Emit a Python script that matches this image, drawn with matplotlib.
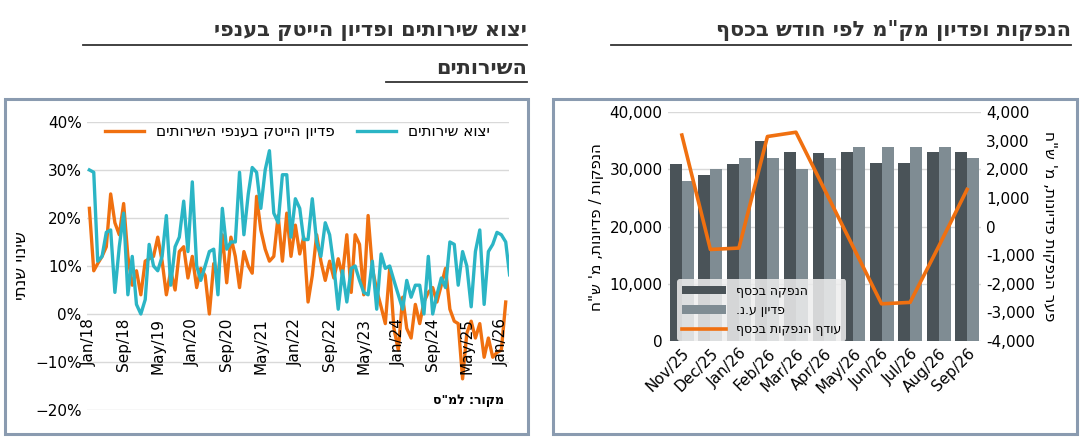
import numpy as np
import pandas as pd
import matplotlib
matplotlib.use("Agg")
from matplotlib import pyplot as plt
from matplotlib.patches import Rectangle
from matplotlib.ticker import FuncFormatter, PercentFormatter

plt.rcParams["font.family"] = ["DejaVu Sans"]


def heb(s):
    """Visual order for right-to-left text."""
    return s[::-1]


# Left panel data: yearly change, %
services_issues = [30, 29.5, 11, 12, 17, 17.5, 4.5, 14, 21, 4, 12, 2, 0, 3, 14.5, 10,
                   9, 12, 20.5, 6, 14, 16, 23.5, 13, 27.5, 10, 7, 10, 13, 13.5, 4, 22,
                   13.5, 15, 15, 29.5, 16.5, 25, 30.5, 29.5, 22, 30, 34, 21, 19, 29, 29,
                   16, 24, 22, 15.5, 15.5, 24, 15, 12, 19, 16.5, 10, 1, 9, 2.5, 9.5, 10,
                   7, 4.5, 4, 11, 1, 12.5, 9.5, 10, 7, 4, 1, 7, 3.5, 6, 6, 0, 12, 0, 4,
                   7.5, 5.5, 15, 14.5, 6, 13, 10, 1.5, 13, 17.5, 2, 13, 14.5, 17, 16.5,
                   15, 8, 18, 15, 24]
hitech_redemptions = [22, 9, 10.5, 12, 14, 25, 19, 16.5, 23, 12, 6, 9, 4, 11, 11.5, 12,
                      16, 11, 4, 9, 5, 13, 14, 7.5, 12, 5.5, 9.5, 8, 0, 10.5, 7.5, 16.5,
                      6.5, 16, 12, 5.5, 13, 10, 8.5, 24.5, 17.5, 13.5, 11, 12, 20.5, 11,
                      21, 12, 18.5, 12.5, 16, 2.5, 8, 16.5, 11, 7, 11, 7.5, 11.5, 8, 16.5,
                      4.5, 16.5, 14.5, 4, 20.5, 9.5, 5, 1.5, -2, 9.5, -3, -7.5, 3.5, -3,
                      -5, 2, -2, 2.5, 4.5, 5.5, 2.5, 6, 9.5, 1, -1.5, -2, -13.5, -4, -1.5,
                      -5, -2, -9, -5, -9, -8, -7.5, 2.5]
label_issues = "יצוא שירותים"
label_hitech = "פדיון הייטק בענפי השירותים"

# Right panel data: NIS million
months = ["Nov/25", "Dec/25", "Jan/26", "Feb/26", "Mar/26", "Apr/26",
          "May/26", "Jun/26", "Jul/26", "Aug/26", "Sep/26"]
issuance = [31000, 29000, 31000, 35000, 33000, 32800, 33000, 31200, 31200, 33000, 33000]
redemption = [28000, 30000, 32000, 32000, 30000, 32000, 34000, 34000, 34000, 34000, 32000]
surplus = [3200, -800, -750, 3150, 3300, 1300, -700, -2700, -2650, -700, 1300]

orange = "#f07010"
teal = "#2bb5c5"

fig = plt.figure(figsize=(10.82, 4.4), dpi=100)

# Frames
for x0, w in [(0.005, 0.483), (0.511, 0.484)]:
    fig.patches.append(Rectangle((x0, 0.013), w, 0.762, transform=fig.transFigure,
                                 fill=False, edgecolor="#8a9bb0", lw=2.2))

# Titles
title_kw = dict(fontsize=15, fontweight="bold", color="#333333", ha="right", va="center")
fig.text(0.99, 0.93, heb('הנפקות ופדיון מק"מ לפי חודש בכסף'), **title_kw)
fig.text(0.487, 0.93, heb("יצוא שירותים ופדיון הייטק בענפי"), **title_kw)
fig.text(0.487, 0.845, heb("השירותים"), **title_kw)
for x0, x1, y in [(0.565, 0.99, 0.898), (0.077, 0.487, 0.898), (0.357, 0.487, 0.813)]:
    fig.add_artist(plt.Line2D([x0, x1], [y, y], transform=fig.transFigure,
                              color="#333333", lw=1.3))

# Left panel
ax = fig.add_axes([0.08, 0.068, 0.39, 0.655])
d1 = pd.date_range("2018-01-01", periods=len(services_issues), freq="MS")
d2 = pd.date_range("2018-01-01", periods=len(hitech_redemptions), freq="MS")
ax.plot(d2, hitech_redemptions, color=orange, lw=2.4, label=heb(label_hitech))
ax.plot(d1, services_issues, color=teal, lw=2.4, label=heb(label_issues))
ax.set_ylim(-20, 40)
ax.set_yticks(range(-20, 41, 10))
ax.yaxis.set_major_formatter(PercentFormatter(decimals=0))
ticks = pd.date_range("2018-01-01", "2026-01-01", freq="8MS")
ax.set_xticks([])
for t in ticks:
    ax.text(t, -0.8, t.strftime("%b/%y"), rotation=90, ha="center", va="top",
            fontsize=11)
ax.set_xlim(d1[0] - pd.Timedelta(days=20), d2[-1] + pd.Timedelta(days=20))
ax.grid(axis="y", color="#d9d9d9", lw=1)
ax.spines[:].set_visible(False)
ax.tick_params(length=0, labelsize=11)
ax.set_ylabel(heb("שינוי שנתי"), fontsize=12)
ax.legend(loc="upper center", ncol=2, frameon=False, fontsize=11,
          bbox_to_anchor=(0.5, 1.04), handlelength=2.5, columnspacing=1.5)
ax.text(0.99, 0.02, heb('מקור: למ"ס'), transform=ax.transAxes, ha="right",
        fontsize=9, fontweight="bold")

# Right panel
ax2 = fig.add_axes([0.617, 0.225, 0.29, 0.52])
x = np.arange(len(months))
w = 0.42
ax2.bar(x - w / 2, issuance, w, color="#4a5358", label=heb("הנפקה בכסף"))
ax2.bar(x + w / 2, redemption, w, color="#7f8c93", label=heb("פדיון ע.נ."))
ax2.set_ylim(0, 40000)
ax2.set_yticks(range(0, 40001, 10000))
ax2.yaxis.set_major_formatter(FuncFormatter(lambda v, p: f"{v:,.0f}"))
ax2.set_xticks(x)
ax2.set_xticklabels(months, rotation=45, ha="right", rotation_mode="anchor")
ax2.set_xlim(-0.5, len(months) - 0.5)
ax2.grid(axis="y", color="#d9d9d9", lw=1)
ax2.set_axisbelow(True)
ax2.spines[:].set_visible(False)
ax2.tick_params(length=0, labelsize=11)
ax2.set_ylabel(heb('הנפקות / פדיונות, מ\' ש"ח'), fontsize=11)

ax3 = ax2.twinx()
ax3.plot(x, surplus, color=orange, lw=2.6, label=heb("עודף הנפקות בכסף"))
ax3.set_ylim(-4000, 4000)
ax3.set_yticks(range(-4000, 4001, 1000))
ax3.yaxis.set_major_formatter(FuncFormatter(lambda v, p: f"{v:,.0f}"))
ax3.spines[:].set_visible(False)
ax3.tick_params(length=0, labelsize=11)
ax3.set_ylabel(heb('פער הנפקות פדיונות, מ\' ש"ח'), fontsize=11, rotation=270,
               labelpad=16)

h1, l1 = ax2.get_legend_handles_labels()
h2, l2 = ax3.get_legend_handles_labels()
leg = ax3.legend(h1 + h2, l1 + l2, loc="lower left", bbox_to_anchor=(0.03, 0.0),
                 fontsize=9, framealpha=0.85, edgecolor="none", facecolor="#eeeeee",
                 handlelength=3.5, borderaxespad=0)

fig.savefig("out.png", dpi=100)
